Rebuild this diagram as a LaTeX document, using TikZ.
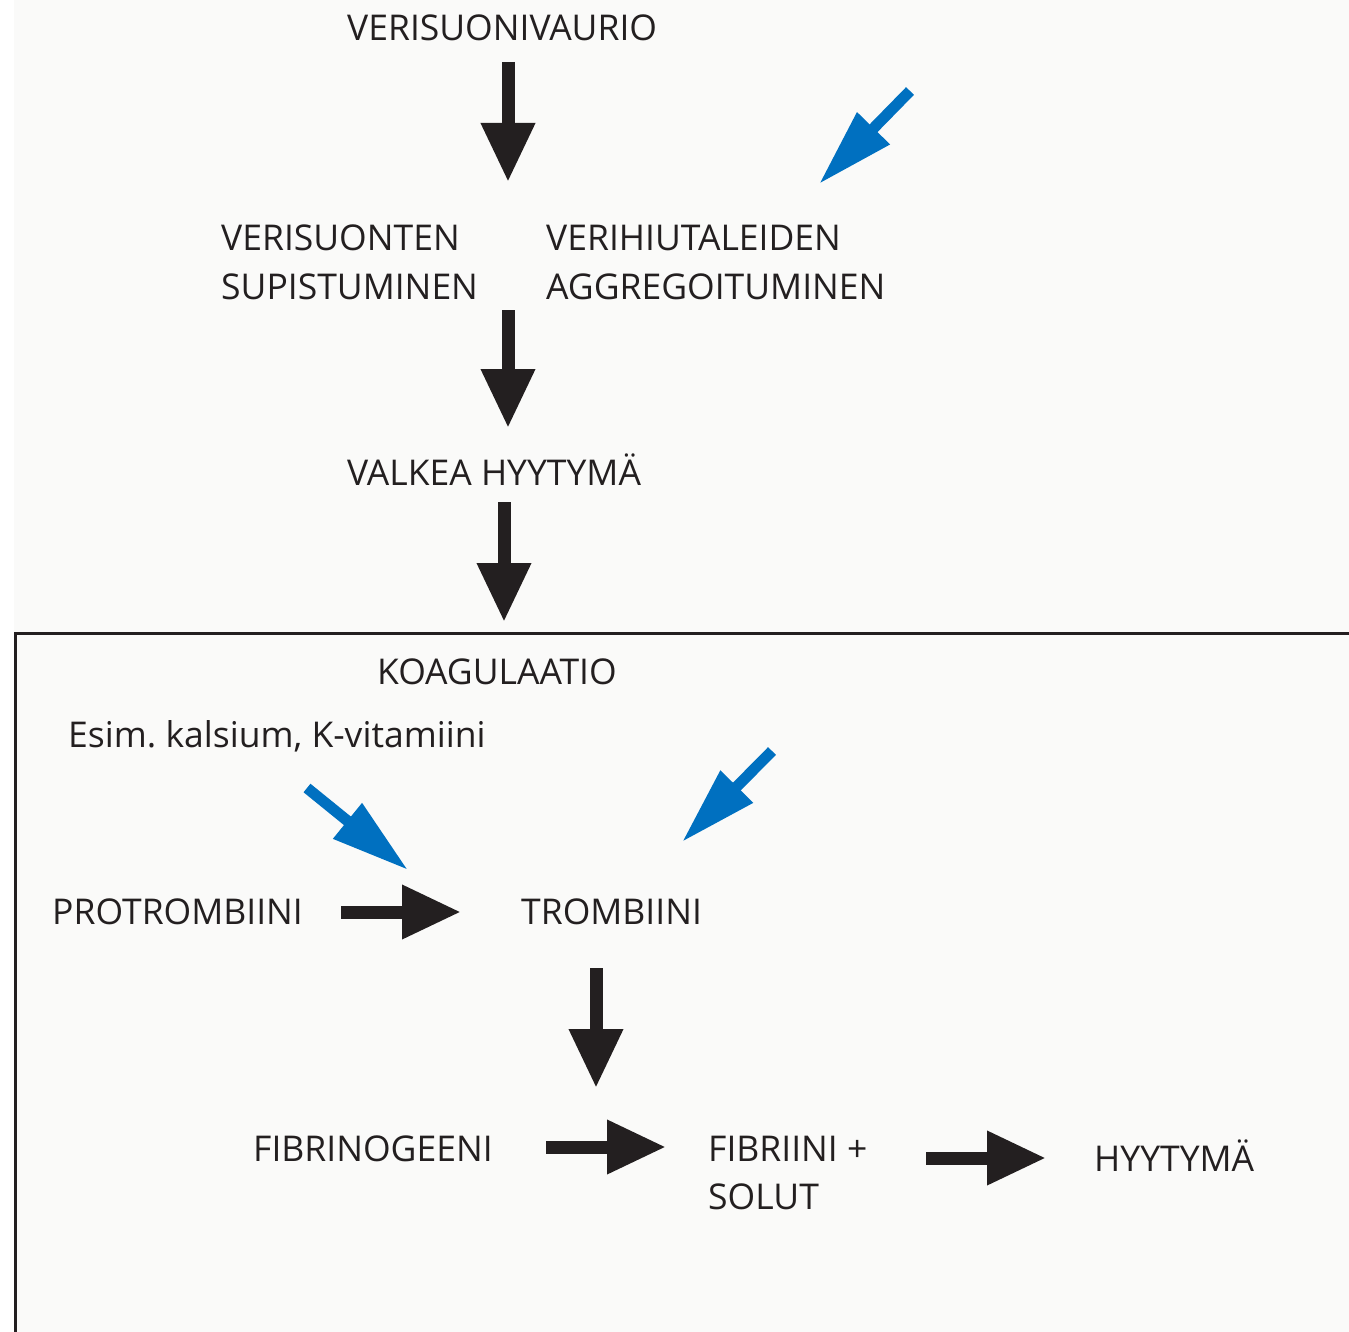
\documentclass[tikz,border=0pt]{standalone}
\usepackage{fontspec}
\setmainfont{Open Sans}
\usetikzlibrary{arrows.meta,positioning}
\definecolor{inkBlack} {RGB}{35, 31, 32}
\definecolor{hintBlue} {RGB}{0, 112, 192}
\definecolor{paperTone}{RGB}{250, 250, 249}

\tikzset{
  lbl/.style={anchor=base west,inner sep=0pt,text=inkBlack,align=left,
              font=\fontsize{35.5}{48}\selectfont},
  bigArrow/.style={-{Triangle[length=59pt,width=51pt]},line width=13pt,inkBlack},
  blueArrow/.style={-{Triangle[length=78pt,width=43pt]},line width=11pt,hintBlue},
}

\begin{document}
\frenchspacing
\begin{tikzpicture}[x=1pt,y=-1pt]
    \useasboundingbox (0,0) rectangle (1349,1332);
    \fill[paperTone] (14,0) rectangle (1349,1332);

    % ─── Ylaosa: verisuonivaurio ──────────────────────────
    \node[lbl] (vaurio)  at (347,41)  {VERISUONIVAURIO};
    \node[lbl] (supist)  at (221,299) {VERISUONTEN\\SUPISTUMINEN};
    \node[lbl] (aggreg)  at (546,299) {VERIHIUTALEIDEN\\AGGREGOITUMINEN};
    \node[lbl] (valkea)  at (347,485) {VALKEA HYYTYMÄ};

    \coordinate (v1s) at (508,62);  \coordinate (v1e) at (508,182);
    \coordinate (v2s) at (508,310); \coordinate (v2e) at (508,428);
    \coordinate (v3s) at (504,502); \coordinate (v3e) at (504,622);
    \draw[bigArrow] (v1s) -- (v1e);
    \draw[bigArrow] (v2s) -- (v2e);
    \draw[bigArrow] (v3s) -- (v3e);

    \coordinate (b1s) at (910,91);  \coordinate (b1e) at (819,184);
    \draw[blueArrow] (b1s) -- (b1e);

    % ─── Koagulaatio-laatikko ─────────────────────────────
    \coordinate (boxR) at (1360,633);
    \coordinate (boxC) at (15,633);
    \coordinate (boxB) at (15,1345);
    \draw[line width=3pt,inkBlack] (boxR) -- (boxC) -- (boxB);

    \node[lbl] (koag)    at (377,684)  {KOAGULAATIO};
    \node[lbl] (esim)    at (68,747)   {Esim. kalsium, K-vitamiini};
    \node[lbl] (protro)  at (52,924)   {PROTROMBIINI};
    \node[lbl] (trombi)  at (521,924)  {TROMBIINI};
    \node[lbl] (fibrino) at (253,1161) {FIBRINOGEENI};
    \node[lbl] (fibrii)  at (708,1209) {FIBRIINI +\\SOLUT};
    \node[lbl] (hyyty)   at (1094,1171){HYYTYMÄ};

    \coordinate (h1s) at (341,912);  \coordinate (h1e) at (461,912);
    \coordinate (v4s) at (596,968);  \coordinate (v4e) at (596,1088);
    \coordinate (h2s) at (546,1147); \coordinate (h2e) at (666,1147);
    \coordinate (h3s) at (926,1158); \coordinate (h3e) at (1046,1158);
    \draw[bigArrow] (h1s) -- (h1e);
    \draw[bigArrow] (v4s) -- (v4e);
    \draw[bigArrow] (h2s) -- (h2e);
    \draw[bigArrow] (h3s) -- (h3e);

    \coordinate (b2s) at (307,788); \coordinate (b2e) at (408,870);
    \coordinate (b3s) at (772,751); \coordinate (b3e) at (682,842);
    \draw[blueArrow] (b2s) -- (b2e);
    \draw[blueArrow] (b3s) -- (b3e);

\end{tikzpicture}
\end{document}
